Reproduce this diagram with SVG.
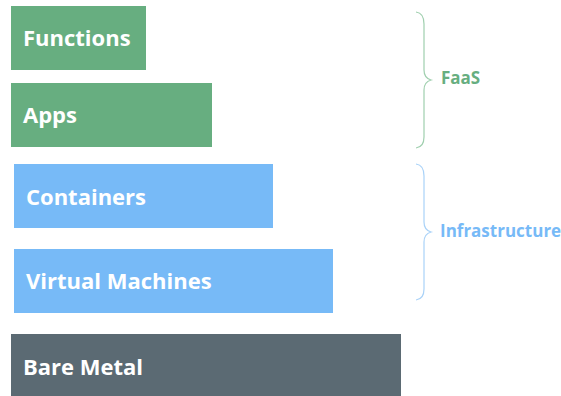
<svg xmlns="http://www.w3.org/2000/svg" width="561" height="396" viewBox="0 0 561 396">
  <style>
    .layer { stroke: none; }
    .faas { fill: #67ae80; }
    .infra { fill: #77baf7; }
    .metal { fill: #5b6a73; }
    .lbl { font-family: "Open Sans", "Noto Sans", sans-serif; font-weight: 700; font-size: 22px; fill: #ffffff; }
    .brace { fill: none; stroke-width: 1.2; }
    .glbl { font-family: "Open Sans", "Noto Sans", sans-serif; font-weight: 700; font-size: 17px; }
  </style>
  <rect width="561" height="396" fill="#ffffff"/>

  <g id="functions">
    <rect class="layer faas" x="11" y="6" width="135" height="64"/>
    <text class="lbl" x="23" y="46">Functions</text>
  </g>
  <g id="apps">
    <rect class="layer faas" x="11" y="83" width="201" height="64"/>
    <text class="lbl" x="23" y="123">Apps</text>
  </g>
  <g id="containers">
    <rect class="layer infra" x="14" y="164" width="259" height="64"/>
    <text class="lbl" x="26" y="205">Containers</text>
  </g>
  <g id="virtual-machines">
    <rect class="layer infra" x="14" y="249" width="319" height="64"/>
    <text class="lbl" x="26" y="289">Virtual Machines</text>
  </g>
  <g id="bare-metal">
    <rect class="layer metal" x="11" y="334" width="390" height="62"/>
    <text class="lbl" x="23" y="375">Bare Metal</text>
  </g>

  <g id="connectors">
    <path class="brace" stroke="#9fcfae" d="M416 12 Q424 13 424 24 L424 70 Q424 78 431 80 Q424 82 424 90 L424 137 Q424 147 416 148"/>
    <path class="brace" stroke="#a9d2f8" d="M416 164 Q424 165 424 176 L424 222 Q424 230 431 232 Q424 234 424 242 L424 289 Q424 299 416 300"/>
  </g>

  <g id="faas-group">
    <text class="glbl" fill="#67ae80" x="441" y="84">FaaS</text>
  </g>
  <g id="infrastructure-group">
    <text class="glbl" fill="#77baf7" x="440" y="237">Infrastructure</text>
  </g>
</svg>
